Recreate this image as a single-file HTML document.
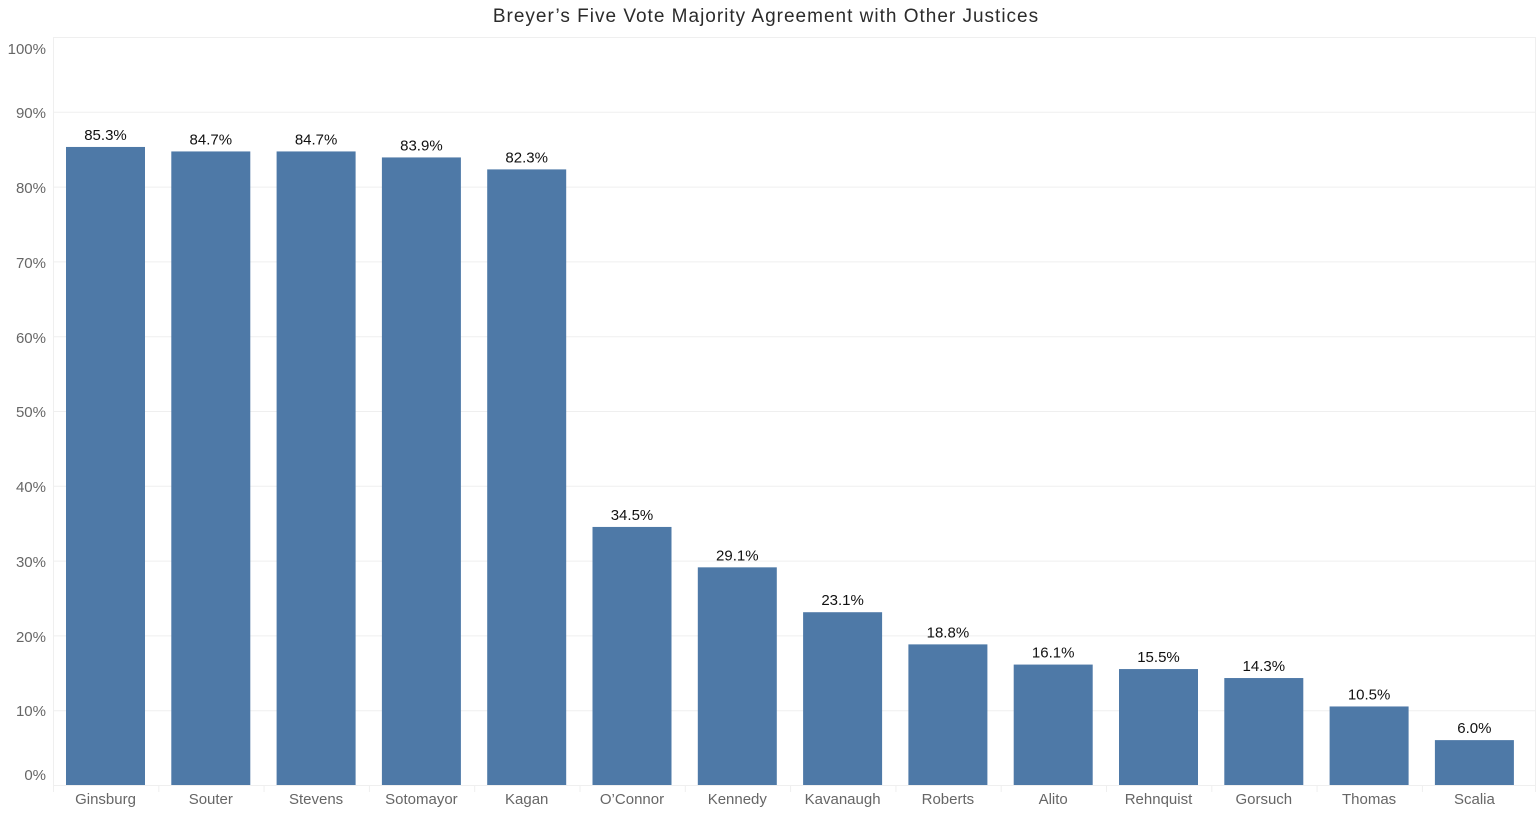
<!DOCTYPE html>
<html><head><meta charset="utf-8"><style>
html,body{margin:0;padding:0;background:#fff;width:1537px;height:815px;overflow:hidden}
svg{display:block;font-family:"Liberation Sans","DejaVu Sans",sans-serif}
</style></head><body>
<svg width="1537" height="815" xmlns="http://www.w3.org/2000/svg">
<text x="766" y="22" text-anchor="middle" font-size="19" letter-spacing="1" fill="#2b2b2b">Breyer’s Five Vote Majority Agreement with Other Justices</text>
<g stroke="#efefef" stroke-width="1">
<line x1="53" x2="1535" y1="37.5" y2="37.5"/>
<line x1="53" x2="1535" y1="112.3" y2="112.3"/>
<line x1="53" x2="1535" y1="187.1" y2="187.1"/>
<line x1="53" x2="1535" y1="261.9" y2="261.9"/>
<line x1="53" x2="1535" y1="336.7" y2="336.7"/>
<line x1="53" x2="1535" y1="411.5" y2="411.5"/>
<line x1="53" x2="1535" y1="486.3" y2="486.3"/>
<line x1="53" x2="1535" y1="561.1" y2="561.1"/>
<line x1="53" x2="1535" y1="635.9" y2="635.9"/>
<line x1="53" x2="1535" y1="710.7" y2="710.7"/>
<line x1="53" x2="1535" y1="785.5" y2="785.5"/>
<line x1="53.5" x2="53.5" y1="37" y2="792"/>
<line x1="1535.5" x2="1535.5" y1="37" y2="792"/>
</g>
<g font-size="15" fill="#666" text-anchor="end">
<text x="46" y="54">100%</text><text x="46" y="118">90%</text><text x="46" y="193">80%</text>
<text x="46" y="268">70%</text><text x="46" y="343">60%</text><text x="46" y="417">50%</text>
<text x="46" y="492">40%</text><text x="46" y="567">30%</text><text x="46" y="642">20%</text>
<text x="46" y="716">10%</text><text x="46" y="780">0%</text>
</g>
<g id="bars"></g>
</svg>
<script>
var d=[["Ginsburg",85.3],["Souter",84.7],["Stevens",84.7],["Sotomayor",83.9],["Kagan",82.3],["O’Connor",34.5],["Kennedy",29.1],["Kavanaugh",23.1],["Roberts",18.8],["Alito",16.1],["Rehnquist",15.5],["Gorsuch",14.3],["Thomas",10.5],["Scalia",6.0]];
var g=document.getElementById("bars"),s="";
d.forEach(function(e,i){var c=105.5+i*105.3,top=785-e[1]*7.48;
s+='<rect x="'+(c-39.5)+'" y="'+top+'" width="79" height="'+(785-top)+'" fill="#4e79a7"/>';
s+='<text x="'+c+'" y="'+(top-7)+'" text-anchor="middle" font-size="15" fill="#111">'+e[1].toFixed(1)+'%</text>';
s+='<text x="'+c+'" y="804" text-anchor="middle" font-size="15" fill="#666">'+e[0]+'</text>';
s+='<line x1="'+(53.5+i*105.3)+'" x2="'+(53.5+i*105.3)+'" y1="785" y2="792" stroke="#efefef"/>';});
g.innerHTML=s;
</script>
</body></html>
